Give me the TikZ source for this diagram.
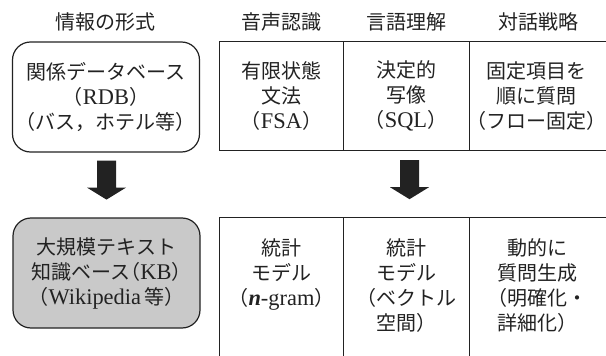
\documentclass[tikz,border=0pt]{standalone}
\usepackage{fontspec}
\setmainfont{Noto Sans CJK JP}
\newfontfamily\lat[Scale=1.12]{Liberation Serif}
\newfontfamily\jph[RawFeature=+halt]{Noto Sans CJK JP}
\newcommand{\hlp}{{\jph（}}
\newcommand{\hrp}{{\jph）}}
\usetikzlibrary{calc}
\definecolor{ink}{HTML}{222222}
\definecolor{kbgray}{HTML}{C9C9C9}
\tikzset{
  hdr/.style={text=ink, inner sep=0pt, font=\fontsize{20}{25}\selectfont},
  txt/.style={text=ink, inner sep=0pt, align=center, font=\fontsize{20}{25}\selectfont},
  rbox/.style={txt, draw=ink, line width=1.2pt, rounded corners=18pt,
    minimum width=187pt, minimum height=110pt},
  cell/.style={inner sep=0pt, draw=none},
  rule/.style={draw=ink, line width=1.2pt},
  blockarrow/.style={fill=ink, draw=none}
}
\begin{document}
\begin{tikzpicture}[x=1pt,y=-1pt]
\useasboundingbox (0,0) rectangle (606,356);
% headers
\node[hdr] (h0) at (106,22) {情報の形式};
\node[hdr] (h1) at (281.5,22) {音声認識};
\node[hdr] (h2) at (406,22) {言語理解};
\node[hdr] (h3) at (538,22) {対話戦略};
% top row
\node[rbox] (rdb) at (106,97) {関係データベース\\\hlp{\lat RDB}\hrp\\（バス，ホテル等）};
\node[cell, minimum width=123pt, minimum height=108pt] (c1) at (281.5,96) {};
\node[cell, minimum width=126pt, minimum height=108pt] (c2) at (406,96) {};
\node[cell, minimum width=137pt, minimum height=108pt] (c3) at (537.5,96) {};
\draw[rule] (c3.south east) -- (c1.south west) -- (c1.north west) -- (c3.north east);
\draw[rule] (c1.north east) -- (c1.south east);
\draw[rule] (c2.north east) -- (c2.south east);
\node[txt] (t1) at (c1) {有限状態\\文法\\\hlp{\lat FSA}\hrp};
\node[txt] (t2) at (c2) {決定的\\写像\\\hlp{\lat SQL}\hrp};
\node[txt] (t3) at ($(c3)+(-1,0)$) {固定項目を\\順に質問\\\hlp フロー固定\hrp};
% bottom row
\node[rbox, fill=kbgray] (kb) at (106.5,273) {大規模テキスト\\知識ベース\hlp{\lat KB}\hrp\\\hlp{\lat Wikipedia}\,等\hrp};
\node[cell, minimum width=123pt, minimum height=138pt] (d1) at (281.5,287) {};
\node[cell, minimum width=126pt, minimum height=138pt] (d2) at (406,287) {};
\node[cell, minimum width=137pt, minimum height=138pt] (d3) at (537.5,287) {};
\draw[rule] (d1.south west) -- (d1.north west) -- (d3.north east);
\draw[rule] (d1.north east) -- (d1.south east);
\draw[rule] (d2.north east) -- (d2.south east);
\node[txt, anchor=north] (u1) at ($(d1.north)+(0,21)$) {統計\\モデル\\\hlp{\lat\bfseries\itshape n}{\lat -gram}\hrp};
\node[txt, anchor=north] (u2) at ($(d2.north)+(0,21)$) {統計\\モデル\\（ベクトル\\空間）};
\node[txt, anchor=north] (u3) at ($(d3.north)+(0,21)$) {動的に\\質問生成\\（明確化・\\詳細化）};
% block arrows
\coordinate (a1) at ($(rdb.south)+(0.5,8)$);
\fill[blockarrow] (a1) ++(-9.5,0) -- ++(19,0) -- ++(0,27) -- ++(10,0) -- ++(-19.5,12) -- ++(-19.5,-12) -- ++(10,0) -- cycle;
\coordinate (a2) at ($(c2.south)+(3.5,10)$);
\fill[blockarrow] (a2) ++(-9.5,0) -- ++(19,0) -- ++(0,27) -- ++(10,0) -- ++(-19.5,12) -- ++(-19.5,-12) -- ++(10,0) -- cycle;
\end{tikzpicture}
\end{document}
